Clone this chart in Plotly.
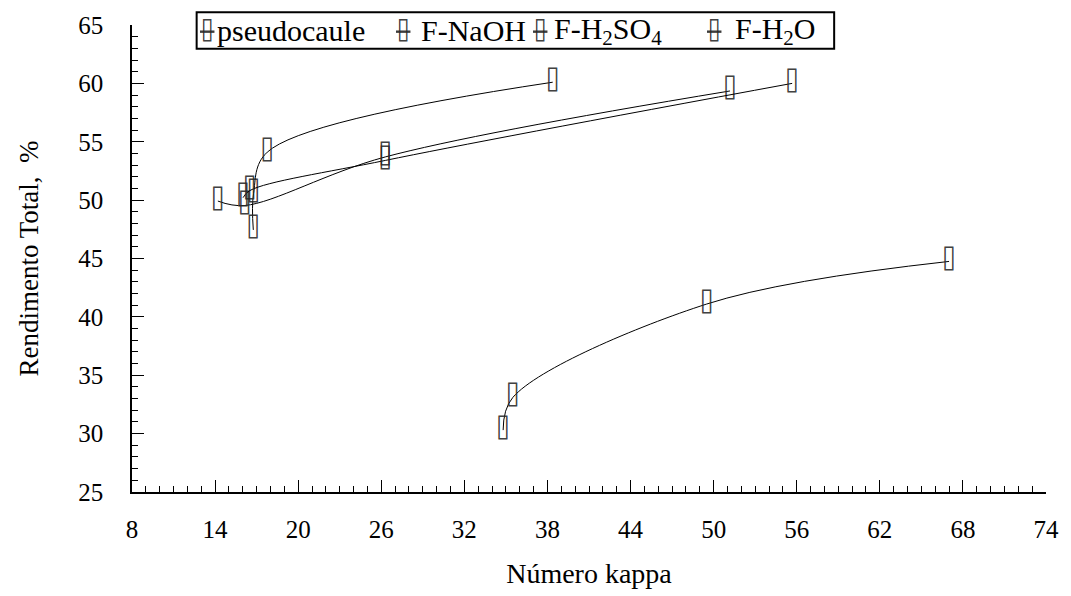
import plotly.graph_objects as go

# ---- data ----
series_names = ["pseudocaule", "F-NaOH", "F-H<sub>2</sub>SO<sub>4</sub>", "F-H<sub>2</sub>O"]

kappa_pseudocaule = [34.8, 35.5, 49.5, 67.0]
yield_pseudocaule = [30.3, 33.1, 41.1, 44.75]

kappa_naoh = [16.76, 16.78, 17.77, 38.38]
yield_naoh = [47.45, 50.59, 54.11, 60.1]

kappa_h2so4 = [14.2, 16.15, 26.29, 51.18]
yield_h2so4 = [49.92, 49.54, 53.7, 59.35]

kappa_h2o = [16.02, 16.51, 26.29, 55.67]
yield_h2o = [50.21, 50.82, 53.4, 60.0]

x_ticks = [8, 14, 20, 26, 32, 38, 44, 50, 56, 62, 68, 74]
y_ticks = [25, 30, 35, 40, 45, 50, 55, 60, 65]

xs = [kappa_pseudocaule, kappa_naoh, kappa_h2so4, kappa_h2o]
ys = [yield_pseudocaule, yield_naoh, yield_h2so4, yield_h2o]

# narrow open box glyph used as the point symbol
GLYPH = "\u2337"
GLYPH_FONT = "DejaVu Sans Mono, DejaVu Sans"
GLYPH_COLOR = "rgba(40,40,40,0.9)"
SERIF = "Liberation Serif, Times New Roman, serif"
W, H = 1071, 596
L, R, T, B = 132, 20, 22, 100

fig = go.Figure()
for name, x, y in zip(series_names, xs, ys):
    fig.add_trace(go.Scatter(
        x=x, y=y, name=name, mode="lines+text",
        text=[GLYPH] * len(x), textposition="middle center",
        textfont=dict(family=GLYPH_FONT, size=26, color=GLYPH_COLOR),
        line=dict(color="black", width=1, shape="spline"),
        showlegend=False, cliponaxis=False,
    ))

axis_common = dict(
    showgrid=False, zeroline=False, showline=True, linecolor="black", linewidth=1.5,
    ticks="inside", ticklen=12, tickwidth=1, tickcolor="black",
    tickfont=dict(family=SERIF, size=25, color="black"),
    mirror=False,
)

fig.update_xaxes(
    range=[8, 74], tickvals=x_ticks, ticktext=[str(v) for v in x_ticks],
    minor=dict(ticks="inside", ticklen=6, tickwidth=1, tickcolor="black", dtick=1, tick0=8),
    title=dict(text="Número kappa", font=dict(family=SERIF, size=28, color="black"), standoff=22),
    ticklabelstandoff=14,
    **axis_common,
)
fig.update_yaxes(
    range=[25, 65], tickvals=y_ticks, ticktext=[str(v) for v in y_ticks],
    minor=dict(ticks="inside", ticklen=6, tickwidth=1, tickcolor="black", dtick=1, tick0=25),
    title=dict(text="Rendimento Total,  %", font=dict(family=SERIF, size=27, color="black"), standoff=32),
    ticklabelstandoff=22,
    **axis_common,
)

# ---- legend (boxed row of items above the plot) ----
pw, ph = W - L - R, H - T - B
def px(xp):
    return (xp - L) / pw
def py(yp):
    return (H - B - yp) / ph

fig.add_shape(type="rect", xref="paper", yref="paper",
              x0=px(197), x1=px(838), y0=py(46), y1=py(9),
              line=dict(color="black", width=2), fillcolor="white", layer="above")

legend_glyph_x = [207, 404, 542, 717]
legend_text_x = [215, 421, 554, 736]
for name, gx, tx in zip(series_names, legend_glyph_x, legend_text_x):
    fig.add_annotation(xref="paper", yref="paper", x=px(gx), y=py(28),
                       text="<s>" + GLYPH + "</s>", showarrow=False,
                       xanchor="center", yanchor="middle",
                       font=dict(family=GLYPH_FONT, size=24, color=GLYPH_COLOR))
    fig.add_annotation(xref="paper", yref="paper", x=px(tx), y=py(28),
                       text=name, showarrow=False, xanchor="left", yanchor="middle",
                       font=dict(family=SERIF, size=30, color="black"))

fig.update_layout(
    width=W, height=H, margin=dict(l=L, r=R, t=T, b=B),
    paper_bgcolor="white", plot_bgcolor="white",
)

fig.write_html("out.html")
